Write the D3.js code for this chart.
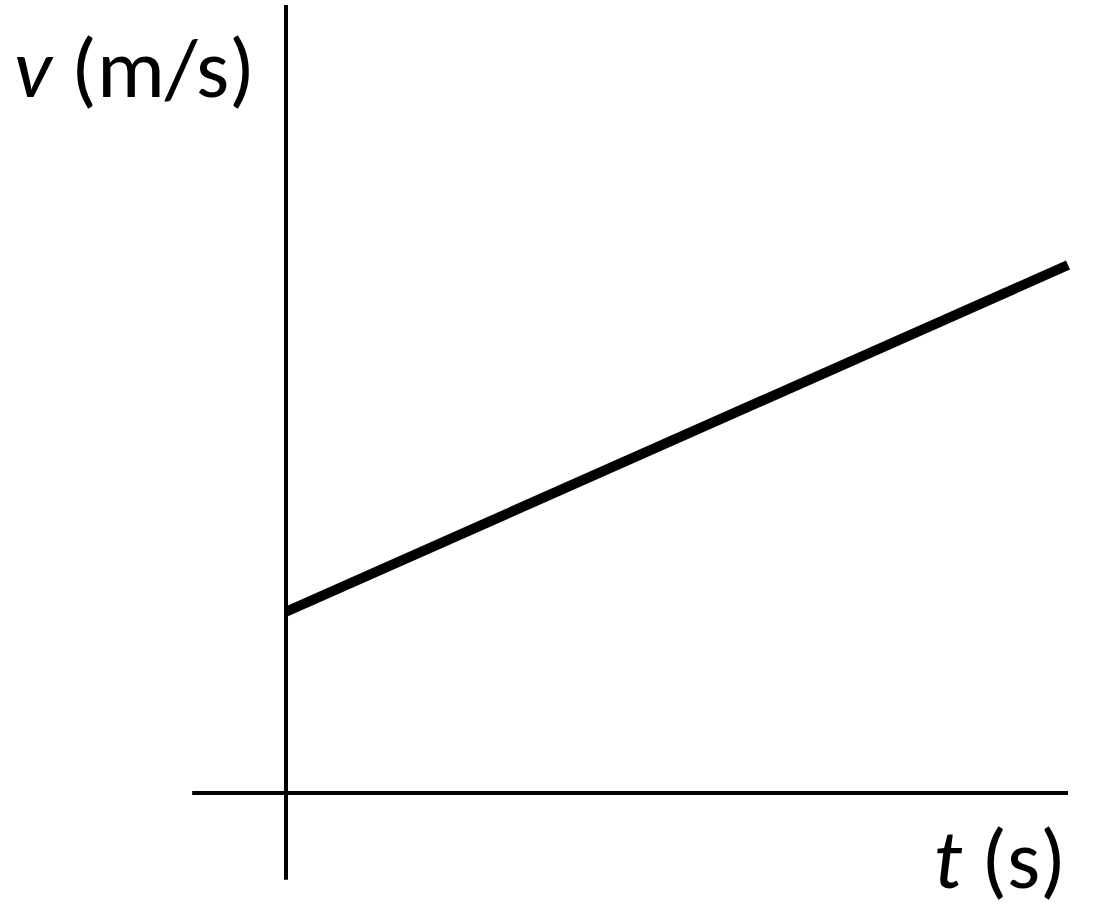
<!DOCTYPE html>
<html><head><meta charset="utf-8">
<script src="https://cdn.jsdelivr.net/npm/d3@7"></script>
<style>html,body{margin:0;padding:0;background:#fff;}</style>
</head><body>
<script>
const times = [0, 10];
const velocities = [2.3, 6.7];
const xAxisExtent = [-1.2, 10];
const yAxisExtent = [-1.1, 10];

const W = 1102, H = 920;
const svg = d3.select("body").append("svg").attr("width", W).attr("height", H);
const x = d3.scaleLinear().domain([0, 10]).range([286, 1068]);
const y = d3.scaleLinear().domain([0, 10]).range([793, 5]);

svg.append("line").attr("x1", x(xAxisExtent[0])).attr("x2", x(xAxisExtent[1]))
  .attr("y1", y(0)).attr("y2", y(0)).attr("stroke", "#000").attr("stroke-width", 4);
svg.append("line").attr("x1", x(0)).attr("x2", x(0))
  .attr("y1", y(yAxisExtent[0])).attr("y2", y(yAxisExtent[1])).attr("stroke", "#000").attr("stroke-width", 4);

const data = times.map((t, i) => ({t, v: velocities[i]}));
svg.append("path").datum(data)
  .attr("d", d3.line().x(d => x(d.t)).y(d => y(d.v)))
  .attr("fill", "none").attr("stroke", "#000").attr("stroke-width", 10).attr("stroke-linecap", "butt");

const font = "Carlito, 'Open Sans', sans-serif";
const yl = svg.append("text").attr("x", 14).attr("y", 97)
  .attr("font-family", font).attr("font-size", 85).attr("fill", "#000");
yl.append("tspan").attr("font-style", "italic").text("v");
yl.append("tspan").text(" (m/s)");
const xl = svg.append("text").attr("x", 1066).attr("y", 888).attr("text-anchor", "end")
  .attr("font-family", font).attr("font-size", 85).attr("fill", "#000");
xl.append("tspan").attr("font-style", "italic").text("t");
xl.append("tspan").text(" (s)");
</script>
</body></html>
